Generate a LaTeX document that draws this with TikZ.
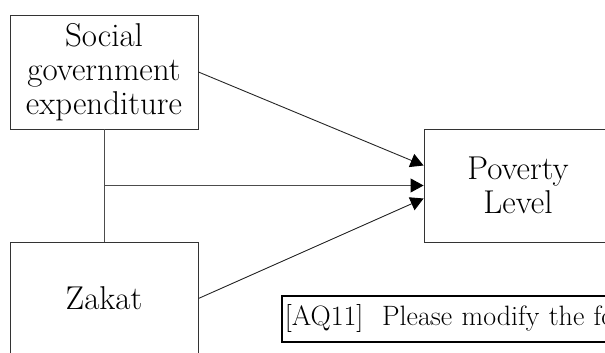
\documentclass[tikz,border=0pt]{standalone}
\usetikzlibrary{arrows.meta}
\begin{document}
\begin{tikzpicture}[x=1pt,y=1pt,
  box/.style={draw=black!80,line width=0.9pt,minimum width=188pt,align=center,inner sep=0pt,
    font=\fontsize{33}{34}\selectfont},
  conn/.style={draw=black!70,line width=0.9pt},
  arr/.style={conn,-{Triangle[length=13pt,width=14pt,color=black]}}]
\useasboundingbox (0,0) rectangle (605,353);
\clip (0,0) rectangle (605,353);
\node[box,minimum height=114pt] (soc) at (104,281) {Social\\government\\expenditure};
\node[box,minimum height=113pt] (zak) at (104,54.5) {Zakat};
\node[box,minimum height=113pt] (pov) at (518,167.5) {Poverty\\Level};
\node[draw=black,line width=1.8pt,anchor=west,minimum height=46pt,minimum width=420pt,inner xsep=3pt,
  text width=414pt,align=left,font=\fontsize{28}{30}\selectfont] (aq) at (281,34) {[AQ11]\ \ Please modify the following};
\coordinate (j) at (soc.south |- pov.west);
\draw[conn] (soc.south) -- (zak.north);
\draw[arr] (j) -- (pov.west);
\draw[arr,draw=black!85] (soc.east) -- ([yshift=20pt]pov.west);
\draw[arr,draw=black!85] (zak.east) -- ([yshift=-13pt]pov.west);
\end{tikzpicture}
\end{document}
